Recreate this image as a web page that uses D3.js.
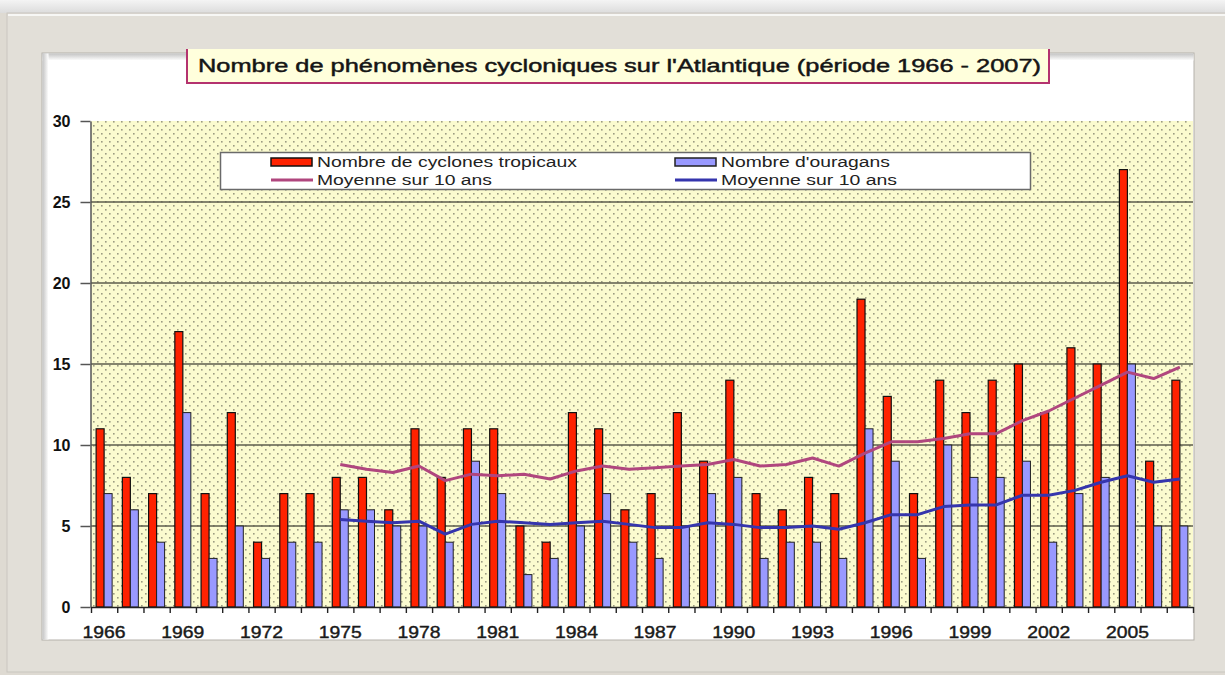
<!DOCTYPE html>
<html>
<head>
<meta charset="utf-8">
<script src="https://cdn.jsdelivr.net/npm/d3@7"></script>
<style>
  body { margin: 0; background: #dedad2; }
  svg { display: block; font-family: "Liberation Sans", Arial, sans-serif; }
</style>
</head>
<body>
<div id="chart"></div>
<script>
// données
var years = [1966, 1967, 1968, 1969, 1970, 1971, 1972, 1973, 1974, 1975,
    1976, 1977, 1978, 1979, 1980, 1981, 1982, 1983, 1984, 1985,
    1986, 1987, 1988, 1989, 1990, 1991, 1992, 1993, 1994, 1995,
    1996, 1997, 1998, 1999, 2000, 2001, 2002, 2003, 2004, 2005,
    2006, 2007];

var cyclones = [11, 8, 7, 17, 7, 12, 4, 7, 7, 8,
    8, 6, 11, 8, 11, 11, 5, 4, 12, 11,
    6, 7, 12, 9, 14, 7, 6, 8, 7, 19,
    13, 7, 14, 12, 14, 15, 12, 16, 15, 27,
    9, 14];

var ouragans = [7, 6, 4, 12, 3, 5, 3, 4, 4, 6,
    6, 5, 5, 4, 9, 7, 2, 3, 5, 7,
    4, 3, 5, 7, 8, 3, 4, 4, 3, 11,
    9, 3, 10, 8, 8, 9, 4, 7, 8, 15,
    5, 5];

// moyennes sur 10 ans (à partir de 1975)
var moyCyclones = [null, null, null, null, null, null, null, null, null, 8.8,
    8.5, 8.3, 8.7, 7.8, 8.2, 8.1, 8.2, 7.9, 8.4, 8.7,
    8.5, 8.6, 8.7, 8.8, 9.1, 8.7, 8.8, 9.2, 8.7, 9.5,
    10.2, 10.2, 10.4, 10.7, 10.7, 11.5, 12.1, 12.9, 13.7, 14.5,
    14.1, 14.8];

var moyOuragans = [null, null, null, null, null, null, null, null, null, 5.4,
    5.3, 5.2, 5.3, 4.5, 5.1, 5.3, 5.2, 5.1, 5.2, 5.3,
    5.1, 4.9, 4.9, 5.2, 5.1, 4.9, 4.9, 5.0, 4.8, 5.2,
    5.7, 5.7, 6.2, 6.3, 6.3, 6.9, 6.9, 7.2, 7.7, 8.1,
    7.7, 7.9];

var tickYears = [1966, 1969, 1972, 1975, 1978, 1981, 1984, 1987, 1990, 1993, 1996, 1999, 2002, 2005];
var yTicks = [0, 5, 10, 15, 20, 25, 30];

var title = "Nombre de phénomènes cycloniques sur l'Atlantique (période 1966 - 2007)";

var W = 1225, H = 675;
var plot = { left: 91, right: 1193, top: 121, bottom: 607 };

var svg = d3.select("#chart").append("svg")
    .attr("width", W)
    .attr("height", H);

var defs = svg.append("defs");

// motif pointillé du fond
var pat = defs.append("pattern")
    .attr("id", "dots")
    .attr("width", 8)
    .attr("height", 8)
    .attr("patternUnits", "userSpaceOnUse");
pat.append("rect").attr("width", 8).attr("height", 8).attr("fill", "#fbfbcf");
pat.append("rect").attr("x", 1).attr("y", 1).attr("width", 1.6).attr("height", 1.6).attr("fill", "#9c9c82");
pat.append("rect").attr("x", 5).attr("y", 5).attr("width", 1.6).attr("height", 1.6).attr("fill", "#9c9c82");

var gTop = defs.append("linearGradient").attr("id", "topshade").attr("x1", 0).attr("y1", 0).attr("x2", 0).attr("y2", 1);
gTop.append("stop").attr("offset", "0%").attr("stop-color", "#f4f4f4");
gTop.append("stop").attr("offset", "100%").attr("stop-color", "#dcdcdc");

var gIn = defs.append("linearGradient").attr("id", "inshade").attr("x1", 0).attr("y1", 0).attr("x2", 0).attr("y2", 1);
gIn.append("stop").attr("offset", "0%").attr("stop-color", "#c4c4c4");
gIn.append("stop").attr("offset", "100%").attr("stop-color", "#ffffff");
var gInL = defs.append("linearGradient").attr("id", "inshadeL").attr("x1", 0).attr("y1", 0).attr("x2", 1).attr("y2", 0);
gInL.append("stop").attr("offset", "0%").attr("stop-color", "#c4c4c4");
gInL.append("stop").attr("offset", "100%").attr("stop-color", "#ffffff");

// cadre
svg.append("rect").attr("width", W).attr("height", H).attr("fill", "#dedad2");
svg.append("rect").attr("width", W).attr("height", 13).attr("fill", "url(#topshade)");
svg.append("rect")
    .attr("x", 7).attr("y", 13)
    .attr("width", W).attr("height", 659)
    .attr("fill", "#e2dfd8")
    .attr("stroke", "#c9c6bf");
svg.append("line").attr("x1", 8).attr("x2", W).attr("y1", 15).attr("y2", 15).attr("stroke", "#f7f7f5").attr("stroke-width", 2);

svg.append("rect")
    .attr("x", 42).attr("y", 53)
    .attr("width", 1152).attr("height", 587)
    .attr("fill", "#ffffff")
    .attr("stroke", "#b4b1aa");
svg.append("rect").attr("x", 42.5).attr("y", 53.5).attr("width", 1151).attr("height", 7).attr("fill", "url(#inshade)");
svg.append("rect").attr("x", 42.5).attr("y", 53.5).attr("width", 6).attr("height", 586).attr("fill", "url(#inshadeL)");

// échelles
var x0 = d3.scaleBand().domain(years).range([plot.left, plot.right]).padding(0);
var x1 = d3.scaleBand().domain(["c", "o"]).range([0, x0.bandwidth()]).paddingInner(0).paddingOuter(0.64);
var y = d3.scaleLinear().domain([0, 30]).range([plot.bottom, plot.top]);
var xb = d3.scaleLinear().domain([0, years.length]).range([plot.left, plot.right]);

// zone de tracé
svg.append("rect")
    .attr("x", plot.left).attr("y", plot.top)
    .attr("width", plot.right - plot.left)
    .attr("height", plot.bottom - plot.top)
    .attr("fill", "url(#dots)");

// grille
svg.append("g")
    .selectAll("line")
    .data(yTicks.filter(function (d) { return d > 0 && d < 30; }))
    .enter().append("line")
    .attr("x1", plot.left).attr("x2", plot.right)
    .attr("y1", function (d) { return y(d); })
    .attr("y2", function (d) { return y(d); })
    .attr("stroke", "#5c5c4c")
    .attr("stroke-width", 1.4);

// barres
var groups = svg.append("g").selectAll("g")
    .data(years)
    .enter().append("g")
    .attr("transform", function (d) { return "translate(" + x0(d) + ",0)"; });

groups.append("rect")
    .attr("x", x1("c"))
    .attr("width", x1.bandwidth())
    .attr("y", function (d, i) { return y(cyclones[i]); })
    .attr("height", function (d, i) { return y(0) - y(cyclones[i]); })
    .attr("fill", "#ff2200")
    .attr("stroke", "#111")
    .attr("stroke-width", 1.2);

groups.append("rect")
    .attr("x", x1("o"))
    .attr("width", x1.bandwidth())
    .attr("y", function (d, i) { return y(ouragans[i]); })
    .attr("height", function (d, i) { return y(0) - y(ouragans[i]); })
    .attr("fill", "#9999ff")
    .attr("stroke", "#222")
    .attr("stroke-width", 1);

// moyennes
function lineFor(values) {
    return d3.line()
        .defined(function (d, i) { return values[i] !== null; })
        .x(function (d) { return x0(d) + x0.bandwidth() / 2; })
        .y(function (d, i) { return y(values[i]); });
}

svg.append("path")
    .attr("d", lineFor(moyCyclones)(years))
    .attr("fill", "none")
    .attr("stroke", "#b0467e")
    .attr("stroke-width", 3)
    .attr("stroke-linejoin", "round");

svg.append("path")
    .attr("d", lineFor(moyOuragans)(years))
    .attr("fill", "none")
    .attr("stroke", "#3535ad")
    .attr("stroke-width", 3)
    .attr("stroke-linejoin", "round");

// axe Y
var yAxis = svg.append("g")
    .attr("transform", "translate(" + (plot.left - 0.5) + ",0)")
    .call(d3.axisLeft(y).tickValues(yTicks).tickSize(10).tickSizeOuter(0).tickPadding(10));
yAxis.select(".domain").attr("stroke", "#555").attr("stroke-width", 1.5);
yAxis.selectAll(".tick line").attr("stroke", "#555").attr("stroke-width", 1.5);
yAxis.selectAll("text")
    .attr("font-size", 16)
    .attr("font-weight", "bold")
    .attr("fill", "#111")
    .attr("font-family", "Liberation Sans, Arial, sans-serif");

// axe X : graduations entre les catégories
var xTicks = svg.append("g")
    .attr("transform", "translate(0," + plot.bottom + ")")
    .call(d3.axisBottom(xb).tickValues(d3.range(0, years.length + 1)).tickFormat("").tickSize(6).tickSizeOuter(0));
xTicks.select(".domain").attr("stroke", "#222").attr("stroke-width", 1.6);
xTicks.selectAll(".tick line").attr("stroke", "#222").attr("stroke-width", 1.4);

var xLabels = svg.append("g")
    .attr("transform", "translate(0," + plot.bottom + ")")
    .call(d3.axisBottom(x0).tickValues(tickYears).tickSize(0).tickPadding(20));
xLabels.select(".domain").remove();
xLabels.selectAll("text")
    .attr("font-size", 16)
    .attr("fill", "#1a1a1a")
    .attr("stroke", "#1a1a1a")
    .attr("stroke-width", 0.4)
    .attr("font-family", "Liberation Sans, Arial, sans-serif")
    .attr("textLength", 43)
    .attr("lengthAdjust", "spacingAndGlyphs");

// titre
svg.append("rect")
    .attr("x", 187).attr("y", 49)
    .attr("width", 862).attr("height", 34)
    .attr("fill", "#ffffdc");
svg.append("path")
    .attr("d", "M187,49V83H1049V49")
    .attr("fill", "none")
    .attr("stroke", "#b4336f")
    .attr("stroke-width", 2);
svg.append("text")
    .attr("x", 198).attr("y", 72)
    .attr("font-size", 18)
    .attr("fill", "#151515")
    .attr("stroke", "#151515")
    .attr("stroke-width", 0.45)
    .attr("textLength", 843)
    .attr("lengthAdjust", "spacingAndGlyphs")
    .text(title);

// légende
var legend = svg.append("g");
legend.append("rect")
    .attr("x", 220.5).attr("y", 152.5)
    .attr("width", 810).attr("height", 37)
    .attr("fill", "#ffffff")
    .attr("stroke", "#6a6a6a")
    .attr("stroke-width", 1.5);

var legendItems = [
    { label: "Nombre de cyclones tropicaux", kind: "bar", fill: "#ff2200", stroke: "#111", x: 271, row: 0, len: 260 },
    { label: "Moyenne sur 10 ans", kind: "line", stroke: "#b0467e", x: 271, row: 1, len: 175 },
    { label: "Nombre d'ouragans", kind: "bar", fill: "#9999ff", stroke: "#222", x: 675, row: 0, len: 169 },
    { label: "Moyenne sur 10 ans", kind: "line", stroke: "#3535ad", x: 675, row: 1, len: 176 }
];

legendItems.forEach(function (d) {
    var cy = 162 + d.row * 18;
    if (d.kind === "bar") {
        legend.append("rect")
            .attr("x", d.x).attr("y", cy - 4)
            .attr("width", 41).attr("height", 8)
            .attr("fill", d.fill)
            .attr("stroke", d.stroke)
            .attr("stroke-width", 1.5);
    } else {
        legend.append("line")
            .attr("x1", d.x).attr("x2", d.x + 42)
            .attr("y1", cy).attr("y2", cy)
            .attr("stroke", d.stroke)
            .attr("stroke-width", 3);
    }
    legend.append("text")
        .attr("x", d.x + 46).attr("y", cy + 5)
        .attr("font-size", 14)
        .attr("fill", "#222")
        .attr("textLength", d.len)
        .attr("lengthAdjust", "spacingAndGlyphs")
        .text(d.label);
});
</script>
</body>
</html>
